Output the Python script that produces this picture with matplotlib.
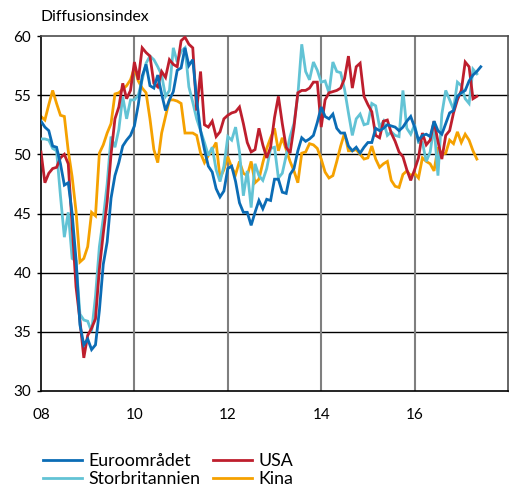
import matplotlib
matplotlib.use("Agg")
import matplotlib.pyplot as plt
import numpy as np

plt.rcParams['font.family'] = ['Lato', 'DejaVu Sans']

# Inköpschefsindex, månadsdata från januari 2008
euro = [
    52.8, 52.3, 52.0, 50.7, 50.6, 49.2, 47.4, 47.6, 45.0, 41.1, 35.6, 33.9,
    34.4, 33.5, 33.9, 36.8, 40.7, 42.6, 46.3, 48.2, 49.3, 50.7, 51.2, 51.6,
    52.4, 54.2, 56.6, 57.6, 55.8, 55.6, 56.7, 55.1, 53.7, 54.6, 55.3, 57.1,
    57.3, 59.0, 57.5, 58.0, 54.6, 52.0, 50.4, 49.0, 48.5, 47.1, 46.4, 46.9,
    48.8, 49.0, 47.7, 45.9, 45.1, 45.1, 44.0, 45.1, 46.1, 45.4, 46.2, 46.1,
    47.9, 47.9, 46.8, 46.7, 48.3, 48.8, 50.3, 51.4, 51.1, 51.3, 51.6, 52.7,
    54.0, 53.2, 53.0, 53.4, 52.2, 51.8, 51.8, 50.7, 50.3, 50.6, 50.1, 50.6,
    51.0, 51.0, 52.2, 52.0, 52.2, 52.5, 52.4, 52.3, 52.0, 52.3, 52.8, 53.2,
    52.3, 51.2, 51.6, 51.7, 51.5, 52.8, 52.0, 51.7, 52.6, 53.5, 53.7, 54.9,
    55.2, 55.4, 56.2, 56.7, 57.0, 57.4,
]

usa = [
    50.2, 47.6, 48.4, 48.8, 48.9, 49.7, 50.0, 49.2, 44.0, 38.8, 36.0, 32.8,
    34.7, 35.3, 36.1, 40.3, 43.3, 46.0, 50.0, 53.0, 54.0, 56.0, 54.7, 55.4,
    57.8, 56.3, 59.0, 58.6, 58.3, 56.0, 55.7, 57.0, 56.5, 58.0, 57.6, 57.4,
    59.6, 59.9, 59.3, 59.0, 53.7, 57.0, 52.5, 52.3, 52.8, 51.5, 51.9, 53.0,
    53.3, 53.5, 53.6, 54.0, 52.6, 51.0, 50.2, 50.4, 52.2, 50.8, 49.7, 50.6,
    53.1, 54.9, 52.6, 50.6, 50.1, 52.3, 55.2, 55.4, 55.4, 55.6, 56.1, 56.1,
    52.3, 54.6, 55.2, 55.3, 55.4, 55.6, 56.4, 58.3, 55.6, 57.4, 57.7, 54.9,
    54.2, 53.6, 51.6, 51.4, 52.8, 52.9, 51.8, 51.1, 50.2, 49.8, 48.7, 47.8,
    48.7, 49.7, 51.8, 50.8, 51.2, 52.8, 51.1, 49.6, 51.6, 52.0, 53.5, 54.6,
    55.4, 57.8, 57.4, 54.7, 54.9,
]

storbritannien = [
    51.3, 51.3, 51.2, 50.5, 50.3, 46.5, 43.0, 45.1, 41.2, 41.0, 36.5, 36.0,
    35.9, 35.0, 38.0, 42.2, 44.6, 47.5, 51.5, 50.6, 52.1, 54.9, 53.0, 54.6,
    54.6, 55.0, 56.3, 57.7, 58.3, 58.0, 57.4, 56.7, 54.9, 55.4, 59.0, 57.8,
    58.7, 59.0, 55.7, 54.4, 53.0, 52.0, 51.0, 49.9, 50.6, 48.7, 47.7, 49.0,
    51.5, 51.2, 52.3, 50.2, 46.5, 48.6, 45.5, 49.2, 48.2, 47.8, 48.8, 50.5,
    50.6, 48.0, 48.4, 49.9, 51.5, 52.6, 55.0, 59.3, 57.0, 56.3, 57.8, 57.1,
    56.1, 56.2, 55.2, 57.8, 57.0, 56.9, 55.5, 53.5, 51.6, 53.0, 53.4, 52.5,
    52.6, 54.3, 54.1, 52.3, 52.8, 51.6, 51.9, 51.6, 51.5, 55.4, 52.2, 51.7,
    52.5, 51.0, 51.0, 49.4, 50.2, 52.4, 48.2, 53.4, 55.4, 54.6, 53.8, 56.1,
    55.8, 54.7, 54.3, 57.2, 56.8,
]

kina = [
    53.2, 52.9, 54.2, 55.4, 54.3, 53.3, 53.2, 50.3, 48.1, 45.2, 40.9, 41.2,
    42.2, 45.1, 44.8, 50.1, 50.8, 51.8, 52.6, 55.1, 55.2, 55.5, 55.8, 56.3,
    57.3, 56.2, 55.6, 55.2, 53.0, 50.4, 49.3, 51.8, 53.2, 54.6, 54.6, 54.5,
    54.3, 51.8, 51.8, 51.8, 51.6, 50.1, 49.3, 49.9, 50.4, 51.0, 48.0, 48.7,
    49.8, 48.9, 48.3, 49.4, 48.4, 48.2, 49.4, 47.6, 47.9, 49.3, 50.5, 51.4,
    52.2, 50.3, 51.4, 50.4, 49.4, 48.6, 47.6, 50.1, 50.2, 50.9, 50.8, 50.5,
    49.6, 48.5, 48.0, 48.2, 49.4, 50.7, 51.8, 50.3, 50.3, 50.4, 50.0, 49.6,
    49.7, 50.7, 49.6, 48.9, 49.2, 49.4, 47.8, 47.3, 47.2, 48.3, 48.6, 48.2,
    48.4, 48.0, 49.7, 49.4, 49.2, 48.6, 50.6, 50.0, 50.1, 51.2, 50.9, 51.9,
    51.0, 51.7, 51.2, 50.3, 49.6,
]

series = [
    ("Euroområdet", euro, "#0B6CB5"),
    ("USA", usa, "#BE1E2D"),
    ("Storbritannien", storbritannien, "#62C3D5"),
    ("Kina", kina, "#F5A100"),
]

year_ticks = [2008, 2010, 2012, 2014, 2016]
year_labels = ["08", "10", "12", "14", "16"]


def months(values, start=2008):
    return start + np.arange(len(values)) / 12.0


fig = plt.figure(figsize=(5.10, 4.93), dpi=100)
ax = fig.add_axes([41 / 510, 1 - 391 / 493, 467 / 510, 355 / 493])

# Kina ritas först så att euroområdet hamnar överst
handles = {}
for zo, (name, vals, color) in zip([5, 4, 3, 2], series):
    line, = ax.plot(months(vals), vals, color=color, lw=2.0, zorder=zo,
                    solid_joinstyle='miter')
    handles[name] = line

ax.set_xlim(2008, 2018)
ax.set_ylim(30, 60)
ax.set_yticks([30, 35, 40, 45, 50, 55, 60])
ax.set_xticks(year_ticks)
ax.set_xticklabels(year_labels)

for y in [35, 40, 45, 50, 55]:
    ax.axhline(y, color='black', lw=1.0, zorder=1)
for x in year_ticks[1:]:
    ax.axvline(x, color='#7f7f7f', lw=1.5, zorder=1)

ax.tick_params(axis='x', length=0, pad=12, labelsize=11)
ax.tick_params(axis='y', direction='out', length=3, width=1.0, pad=4,
               labelsize=11, right=True, color='black')

for side in ['left', 'bottom']:
    ax.spines[side].set_color('black')
    ax.spines[side].set_linewidth(1.2)
for side in ['top', 'right']:
    ax.spines[side].set_color('#4d4d4d')
    ax.spines[side].set_linewidth(1.2)

fig.text(41 / 510, 1 - 21 / 493, "Diffusionsindex", fontsize=11.3,
         ha='left', va='baseline')

# två rader: Euroområdet/USA överst, Storbritannien/Kina under
order = ["Euroområdet", "Storbritannien", "USA", "Kina"]
fig.legend([handles[n] for n in order], order, ncol=2, frameon=False,
           loc='center left', bbox_to_anchor=(43 / 510, 1 - 470 / 493),
           borderpad=0, borderaxespad=0, handlelength=2.2,
           handletextpad=0.35, columnspacing=0.7, labelspacing=0.1,
           fontsize=12.8)

fig.savefig("out.png", dpi=100)
